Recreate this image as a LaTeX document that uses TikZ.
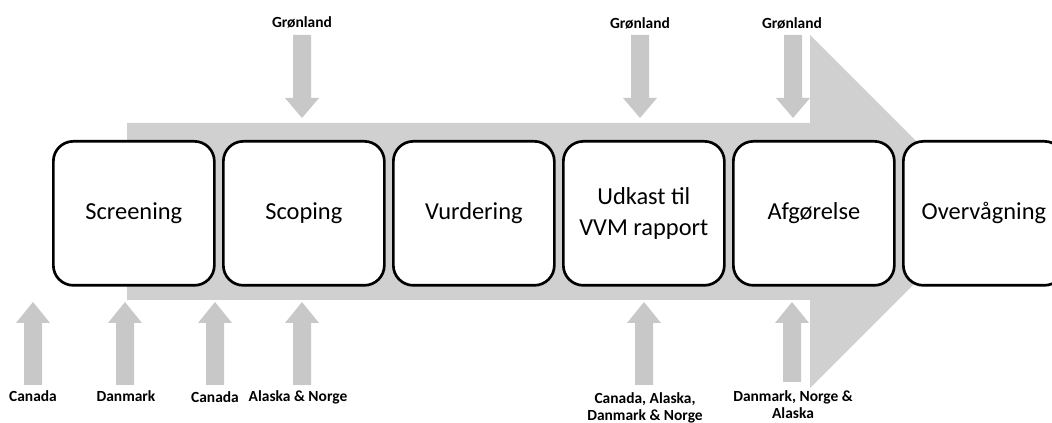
\documentclass[tikz,border=0pt]{standalone}
\usepackage{fontspec}
\setmainfont{Carlito}
\definecolor{bigarr}{RGB}{208,208,208}
\definecolor{smallarr}{RGB}{200,200,200}
\begin{document}
\begin{tikzpicture}[x=0.75pt,y=-0.75pt,
  stage/.style={draw=black, line width=2pt, fill=white, rounded corners=15pt,
    minimum width=120.75pt, minimum height=108pt, inner sep=0pt, align=center,
    font=\fontsize{18.3}{23}\selectfont, anchor=north west},
  lbl/.style={font=\bfseries\fontsize{11.6}{13}\selectfont, align=center, inner sep=0pt},
  small/.style={fill=smallarr}]
\useasboundingbox (0,0) rectangle (1052,423);
% big process arrow
\fill[bigarr] (127,123) -- (810,123) -- (810,35) -- (986.5,211.5) -- (810,388) -- (810,300) -- (127,300) -- cycle;
% down arrows (Grønland)
\foreach \c in {302,640,793}{
  \fill[small] (\c-9,35) -- (\c+9,35) -- (\c+9,98) -- (\c+17,98) -- (\c,118) -- (\c-17,98) -- (\c-9,98) -- cycle;
}
% up arrows
\foreach \c/\b in {33/385,125/385,215/385,302/385,644/385,792/382}{
  \fill[small] (\c-9,\b) -- (\c+9,\b) -- (\c+9,323) -- (\c+17,323) -- (\c,302) -- (\c-17,323) -- (\c-9,323) -- cycle;
}
% stages
\node[stage] (s1) at (52,140) {Screening};
\node[stage] (s2) at (222,140) {Scoping};
\node[stage] (s3) at (392,140) {Vurdering};
\node[stage] (s4) at (562,140) {Udkast til\\VVM rapport};
\node[stage] (s5) at (732,140) {Afgørelse};
\node[stage] (s6) at (902,140) {Overvågning};
% top labels
\node[lbl] (g1) at (302,22) {Grønland};
\node[lbl] (g2) at (640,23) {Grønland};
\node[lbl] (g3) at (792,23) {Grønland};
% bottom labels
\node[lbl] (b1) at (33,396) {Canada};
\node[lbl] (b2) at (126,396) {Danmark};
\node[lbl] (b3) at (215,397) {Canada};
\node[lbl] (b4) at (298,397) {Alaska \& Norge};
\node[lbl] (b5) at (645,408) {Canada, Alaska,\\Danmark \& Norge};
\node[lbl] (b6) at (793,404.5) {Danmark, Norge \&\\Alaska};
\end{tikzpicture}
\end{document}
